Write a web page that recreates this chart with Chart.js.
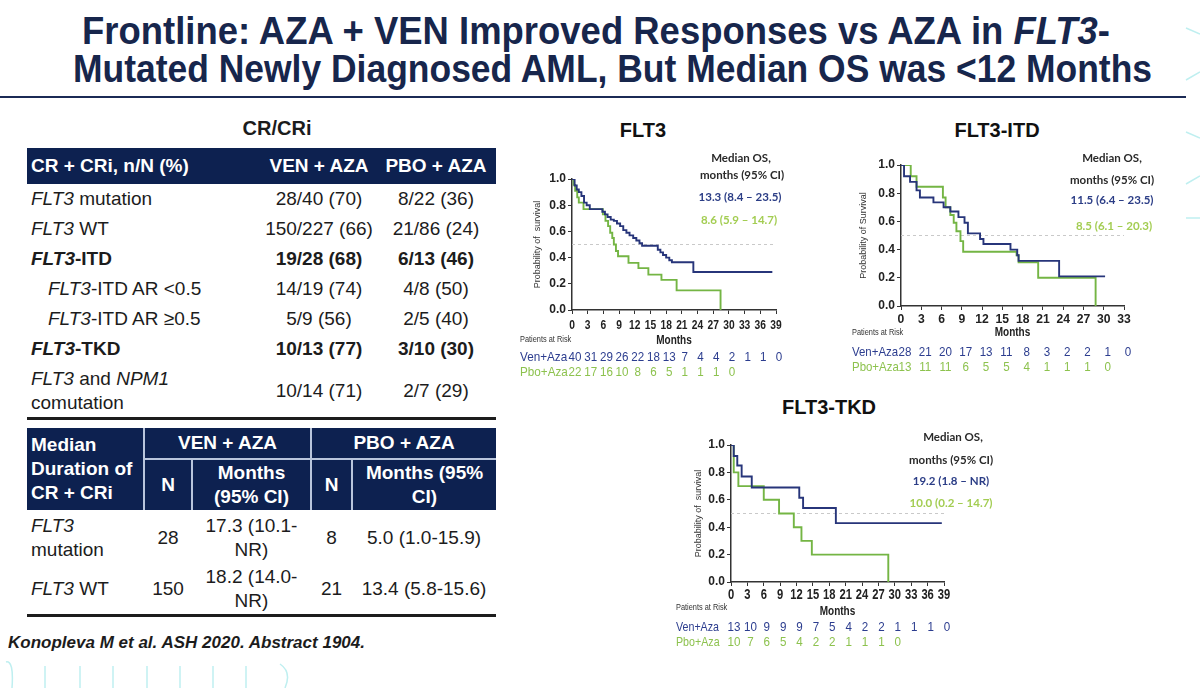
<!DOCTYPE html>
<html>
<head>
<meta charset="utf-8">
<script src="https://cdn.jsdelivr.net/npm/chart.js@4.4.1/dist/chart.umd.min.js"></script>
<style>
body { margin: 0; background: #fff; }
#slide { position: relative; width: 1200px; height: 688px; overflow: hidden; background: #fff;
  font-family: "Liberation Sans", Arial, sans-serif; color: #1c1c1c; }
.abs { position: absolute; white-space: nowrap; }
.ttl { font-family: "Liberation Sans", sans-serif; font-weight: bold;
  font-size: 38px; line-height: 38px; color: #17264c; transform-origin: 0 50%; }
.ctitle { font-weight: bold; font-size: 20px; line-height: 24px; color: #111; transform: translateX(-50%); }
.med { font-family: Lato, sans-serif; font-weight: bold; font-size: 11.5px; line-height: 16px; transform: translateX(-50%); color: #2a2a2a; }
canvas { position: absolute; }
table { position: absolute; border-collapse: collapse; table-layout: fixed; font-size: 19px; }
td, th { padding: 0; white-space: nowrap; }
#t1 th { background: #0d2150; color: #fff; height: 36px; font-weight: bold; }
#t1 td { height: 30px; line-height: 24px; text-align: center; }
#t1 td.l { text-align: left; padding-left: 4px; }
#t1 td.ind { padding-left: 21px; }
#t1 tr.last td { height: 53px; border-bottom: 3px solid #1d1d1d; }
#t2 th { background: #0d2150; color: #fff; font-weight: bold; line-height: 24px; }
#t2 td { text-align: center; line-height: 24px; }
#t2 td.l { text-align: left; padding-left: 4px; }
#t2 .vl { border-left: 2px solid #b9c5dc; }
#t2 .hl { border-bottom: 2px solid #b9c5dc; }
#t2 tr.last td { border-bottom: 3px solid #1d1d1d; }
</style>
</head>
<body>
<div id="slide">
  <div class="abs ttl" id="title1" style="left:82px;top:12px;">Frontline: AZA + VEN Improved Responses vs AZA in <i>FLT3</i>-</div>
  <div class="abs ttl" id="title2" style="left:73px;top:50px;">Mutated Newly Diagnosed AML, But Median OS was &lt;12 Months</div>
  <div class="abs" style="left:0;top:96px;width:1186px;height:2px;background:#1b2a55;"></div>

  <svg class="abs" style="left:0;top:0;" width="1200" height="688">
    <g stroke="#bfeff0" stroke-width="1.5" fill="none">
      <path d="M1186 28 L1200 34"/><path d="M1186 80 L1200 72"/><path d="M1186 132 L1200 138"/>
      <path d="M1186 184 L1200 176"/><path d="M1186 218 L1200 218"/>
      <path d="M6 662 Q14 660 12 688"/><path d="M45 666 L45 688"/><path d="M80 666 L80 688"/>
      <path d="M113 666 L113 688"/><path d="M147 666 L147 688"/><path d="M180 666 L180 688"/>
      <path d="M213 666 L213 688"/><path d="M246 666 L246 688"/><path d="M280 664 Q292 672 285 688"/>
    </g>
  </svg>

  <div class="abs" style="left:277px;top:116px;transform:translateX(-50%);font-weight:bold;font-size:20px;line-height:24px;">CR/CRi</div>

  <table id="t1" style="left:27px;top:148px;width:469px;">
    <colgroup><col style="width:235px"><col style="width:114px"><col style="width:120px"></colgroup>
    <tr><th style="text-align:left;padding-left:4px;">CR + CRi, n/N (%)</th><th>VEN + AZA</th><th>PBO + AZA</th></tr>
    <tr><td class="l"><i>FLT3</i> mutation</td><td>28/40 (70)</td><td>8/22 (36)</td></tr>
    <tr><td class="l"><i>FLT3</i> WT</td><td>150/227 (66)</td><td>21/86 (24)</td></tr>
    <tr style="font-weight:bold"><td class="l"><i>FLT3</i>-ITD</td><td>19/28 (68)</td><td>6/13 (46)</td></tr>
    <tr><td class="l ind"><i>FLT3</i>-ITD AR &lt;0.5</td><td>14/19 (74)</td><td>4/8 (50)</td></tr>
    <tr><td class="l ind"><i>FLT3</i>-ITD AR ≥0.5</td><td>5/9 (56)</td><td>2/5 (40)</td></tr>
    <tr style="font-weight:bold"><td class="l"><i>FLT3</i>-TKD</td><td>10/13 (77)</td><td>3/10 (30)</td></tr>
    <tr class="last"><td class="l"><i>FLT3</i> and <i>NPM1</i><br>comutation</td><td>10/14 (71)</td><td>2/7 (29)</td></tr>
  </table>

  <table id="t2" style="left:27px;top:428px;width:469px;">
    <colgroup><col style="width:117px"><col style="width:48px"><col style="width:119px"><col style="width:41px"><col style="width:144px"></colgroup>
    <tr style="height:31px"><th rowspan="2" style="text-align:left;padding-left:4px;">Median<br>Duration of<br>CR + CRi</th>
      <th colspan="2" class="vl hl">VEN + AZA</th><th colspan="2" class="vl hl">PBO + AZA</th></tr>
    <tr style="height:51px"><th class="vl">N</th><th class="vl">Months<br>(95% CI)</th><th class="vl">N</th><th class="vl">Months (95%<br>CI)</th></tr>
    <tr style="height:55px"><td class="l"><i>FLT3</i><br>mutation</td><td>28</td><td>17.3 (10.1-<br>NR)</td><td>8</td><td>5.0 (1.0-15.9)</td></tr>
    <tr class="last" style="height:50px"><td class="l"><i>FLT3</i> WT</td><td>150</td><td>18.2 (14.0-<br>NR)</td><td>21</td><td>13.4 (5.8-15.6)</td></tr>
  </table>

  <div class="abs" id="cite" style="left:8px;top:633px;font-weight:bold;font-style:italic;font-size:17px;line-height:20px;transform-origin:0 50%;">Konopleva M et al. ASH 2020. Abstract 1904.</div>

  <div class="abs ctitle" style="left:643px;top:118px;">FLT3</div>
  <div class="abs ctitle" style="left:997px;top:118px;">FLT3-ITD</div>
  <div class="abs ctitle" style="left:829px;top:395px;">FLT3-TKD</div>

  <canvas id="c1" width="290" height="215" style="left:512px;top:165px;"></canvas>
  <canvas id="c2" width="307" height="224" style="left:843px;top:151px;"></canvas>
  <canvas id="c3" width="304" height="224" style="left:668px;top:431px;"></canvas>

  <div class="abs med" style="left:741px;top:150px;">Median OS,</div>
  <div class="abs med" style="left:742px;top:167px;">months (95% CI)</div>
  <div class="abs med" style="left:740px;top:189px;color:#2b3d86;">13.3 (8.4 – 23.5)</div>
  <div class="abs med" style="left:739px;top:212px;color:#a3cd52;">8.6 (5.9 – 14.7)</div>

  <div class="abs med" style="left:1112px;top:150px;">Median OS,</div>
  <div class="abs med" style="left:1112px;top:172px;">months (95% CI)</div>
  <div class="abs med" style="left:1112px;top:192px;color:#2b3d86;">11.5 (6.4 – 23.5)</div>
  <div class="abs med" style="left:1114px;top:218px;color:#a3cd52;">8.5 (6.1 – 20.3)</div>

  <div class="abs med" style="left:953px;top:429px;">Median OS,</div>
  <div class="abs med" style="left:951px;top:452px;">months (95% CI)</div>
  <div class="abs med" style="left:951px;top:473px;color:#2b3d86;">19.2 (1.8 – NR)</div>
  <div class="abs med" style="left:951px;top:495px;color:#a3cd52;">10.0 (0.2 – 14.7)</div>
</div>

<script>
// x-axis ticks (months)
var ticks39 = [0, 3, 6, 9, 12, 15, 18, 21, 24, 27, 30, 33, 36, 39];
var ticks33 = [0, 3, 6, 9, 12, 15, 18, 21, 24, 27, 30, 33];

// FLT3 overall: KM steps
var flt3VenT = [0, 0.5, 0.9, 1.3, 1.8, 2.3, 2.8, 3.4, 5.8, 6.3, 6.8, 7.4, 8.0, 8.6, 9.2, 9.8, 10.4, 11.0, 11.7, 12.3, 12.9, 13.4, 16.4, 16.9, 17.4, 18.0, 18.6, 19.1, 23.2, 38.3];
var flt3VenS = [1.0, 0.95, 0.92, 0.90, 0.87, 0.82, 0.80, 0.77, 0.75, 0.73, 0.71, 0.69, 0.68, 0.66, 0.64, 0.61, 0.59, 0.57, 0.55, 0.53, 0.51, 0.49, 0.46, 0.44, 0.42, 0.40, 0.38, 0.365, 0.29, 0.29];
var flt3PboT = [0, 0.3, 0.6, 1.0, 1.3, 2.2, 5.9, 6.4, 6.9, 7.3, 7.7, 8.0, 8.4, 8.8, 10.8, 12.7, 14.6, 17.1, 20.0, 28.4];
var flt3PboS = [1.0, 0.955, 0.91, 0.86, 0.82, 0.77, 0.73, 0.68, 0.64, 0.59, 0.55, 0.50, 0.45, 0.41, 0.36, 0.32, 0.27, 0.23, 0.15, 0.0];
var flt3RiskVen = [40, 31, 29, 26, 22, 18, 13, 7, 4, 4, 2, 1, 1, 0];
var flt3RiskPbo = [22, 17, 16, 10, 8, 6, 5, 1, 1, 1, 0];

// FLT3-ITD
var itdVenT = [0, 0.45, 1.34, 2.3, 2.8, 4.8, 6.3, 7.3, 8.5, 9.4, 9.9, 11.7, 12.2, 16.2, 17.2, 17.4, 23.4, 30.2];
var itdVenS = [1.0, 0.92, 0.88, 0.82, 0.77, 0.735, 0.70, 0.67, 0.63, 0.59, 0.515, 0.475, 0.44, 0.40, 0.36, 0.32, 0.21, 0.21];
var itdPboT = [0, 1.44, 2.3, 6.2, 6.6, 7.3, 7.8, 8.2, 8.8, 9.2, 17.1, 17.4, 20.3, 28.8];
var itdPboS = [1.0, 0.92, 0.846, 0.77, 0.70, 0.645, 0.59, 0.53, 0.46, 0.385, 0.36, 0.31, 0.20, 0.0];
var itdRiskVen = [28, 21, 20, 17, 13, 11, 8, 3, 2, 2, 1, 0];
var itdRiskPbo = [13, 11, 11, 6, 5, 5, 4, 1, 1, 1, 0];

// FLT3-TKD
var tkdVenT = [0, 0.5, 1.15, 1.95, 3.8, 12.5, 13.2, 19.2, 38.6];
var tkdVenS = [1.0, 0.92, 0.85, 0.77, 0.69, 0.615, 0.54, 0.43, 0.43];
var tkdPboT = [0, 0.5, 1.35, 6.0, 8.8, 11.5, 12.9, 14.8, 28.8];
var tkdPboS = [1.0, 0.80, 0.70, 0.60, 0.50, 0.40, 0.30, 0.20, 0.0];
var tkdRiskVen = [13, 10, 9, 9, 9, 7, 5, 4, 2, 2, 1, 1, 1, 0];
var tkdRiskPbo = [10, 7, 6, 5, 4, 2, 2, 1, 1, 1, 0];

var medianLine = 0.5;

var NAVY = "#27357a";
var GREEN = "#74b544";
var NAVY_TXT = "#2c3d8f";
var GREEN_TXT = "#8dc24e";
var SANS = '"Liberation Sans", Arial, sans-serif';

function pts(t, s) {
  return t.map(function (v, i) { return { x: v, y: s[i] }; });
}

// slide text is condensed, no narrow font here, so squeeze it horizontally
function narrow(ctx, text, x, y, sx, align) {
  ctx.save();
  ctx.translate(x, y);
  ctx.scale(sx, 1);
  ctx.textAlign = align;
  ctx.fillText(text, 0, 0);
  ctx.restore();
}

var axisText = {
  id: "axisText",
  afterDraw: function (chart, args, o) {
    var ctx = chart.ctx, xs = chart.scales.x, a = chart.chartArea;
    var mid = (a.left + a.right) / 2;
    ctx.save();
    ctx.textBaseline = "middle";
    ctx.fillStyle = "#222";
    ctx.font = "bold " + o.tickSize + "px " + SANS;
    o.times.forEach(function (t) {
      narrow(ctx, String(t), xs.getPixelForValue(t), a.bottom + o.tickY, o.tickSX, "center");
    });
    ctx.font = "bold 12.5px " + SANS;
    narrow(ctx, "Months", mid, a.bottom + o.monthsY, 0.8, "center");
    ctx.fillStyle = "#333";
    ctx.font = "9px " + SANS;
    narrow(ctx, "Patients at Risk", o.labelX, a.bottom + o.headY, 0.82, "left");
    o.rows.forEach(function (row, r) {
      var y = a.bottom + o.rowY[r];
      ctx.fillStyle = row.color;
      ctx.font = "13px " + SANS;
      narrow(ctx, row.label, o.labelX, y, o.labelSX, "left");
      ctx.font = "13.5px " + SANS;
      row.values.forEach(function (v, i) {
        narrow(ctx, String(v), xs.getPixelForValue(o.times[i]) + o.shift, y, 0.86, "center");
      });
    });
    ctx.restore();
  }
};

function makeKm(id, c) {
  new Chart(document.getElementById(id), {
    type: "line",
    data: {
      datasets: [
        { data: pts(c.venT, c.venS), borderColor: NAVY, borderWidth: 1.9, stepped: true, pointRadius: 0 },
        { data: pts(c.pboT, c.pboS), borderColor: GREEN, borderWidth: 1.9, stepped: true, pointRadius: 0 },
        { data: [{ x: 0, y: medianLine }, { x: c.max, y: medianLine }], borderColor: "#c9c9c9", borderWidth: 1, borderDash: [3, 3], pointRadius: 0 }
      ]
    },
    options: {
      responsive: false,
      animation: false,
      layout: { padding: c.pad },
      plugins: {
        legend: { display: false },
        tooltip: { enabled: false },
        axisText: {
          times: c.ticks, tickSize: c.tickSize, tickSX: c.tickSX, tickY: c.tickY, monthsY: c.monthsY,
          labelX: c.labelX, labelSX: c.labelSX, headY: c.headY, rowY: c.rowY, shift: c.shift,
          rows: [
            { label: "Ven+Aza", values: c.riskVen, color: NAVY_TXT },
            { label: "Pbo+Aza", values: c.riskPbo, color: GREEN_TXT }
          ]
        }
      },
      scales: {
        x: {
          type: "linear", min: 0, max: c.max,
          afterFit: function (s) { s.height = c.xH; },
          afterBuildTicks: function (s) { s.ticks = c.ticks.map(function (v) { return { value: v }; }); },
          ticks: { display: false },
          grid: { drawOnChartArea: false, drawTicks: true, tickLength: 4, color: "#333" },
          border: { display: true, color: "#333", width: 1.5 }
        },
        y: {
          min: 0, max: 1,
          afterFit: function (s) { s.width = c.yW; },
          ticks: { stepSize: 0.2, padding: 2, color: "#222", font: { family: SANS, size: 12, weight: "bold" },
            callback: function (v) { return v.toFixed(1); } },
          grid: { drawOnChartArea: false, drawTicks: true, tickLength: 4, color: "#333" },
          border: { display: true, color: "#333", width: 1.5 },
          title: { display: true, text: c.yTitle, color: "#333", font: { family: SANS, size: 9 }, padding: { top: 4, bottom: 0 } }
        }
      }
    },
    plugins: [axisText]
  });
}

makeKm("c1", {
  venT: flt3VenT, venS: flt3VenS, pboT: flt3PboT, pboS: flt3PboS,
  riskVen: flt3RiskVen, riskPbo: flt3RiskPbo, ticks: ticks39, max: 39,
  pad: { left: 16, top: 14, right: 26, bottom: 28 }, yW: 44, xH: 42,
  tickSize: 13.5, tickSX: 0.76, tickY: 15, monthsY: 31,
  labelX: 8, labelSX: 0.9, headY: 30, rowY: [47, 62], shift: 3, yTitle: "Probability of  survival"
});
makeKm("c2", {
  venT: itdVenT, venS: itdVenS, pboT: itdPboT, pboS: itdPboS,
  riskVen: itdRiskVen, riskPbo: itdRiskPbo, ticks: ticks33, max: 33,
  pad: { left: 11, top: 14, right: 26, bottom: 31 }, yW: 47, xH: 38,
  tickSize: 13.5, tickSX: 0.9, tickY: 13, monthsY: 27,
  labelX: 9, labelSX: 0.88, headY: 27, rowY: [46, 61], shift: 4, yTitle: "Probability of Survival"
});
makeKm("c3", {
  venT: tkdVenT, venS: tkdVenS, pboT: tkdPboT, pboS: tkdPboS,
  riskVen: tkdRiskVen, riskPbo: tkdRiskPbo, ticks: ticks39, max: 39,
  pad: { left: 21, top: 14, right: 28, bottom: 32 }, yW: 42, xH: 41,
  tickSize: 14, tickSX: 0.8, tickY: 13, monthsY: 30,
  labelX: 8, labelSX: 0.82, headY: 26, rowY: [45, 60], shift: 3, yTitle: "Probability of  survival"
});

// stretch text lines to the widths they take on the slide
function fitWidth(id, w) {
  var el = document.getElementById(id);
  var r = el.getBoundingClientRect().width;
  el.style.transform = "scaleX(" + (w / r) + ")";
}
fitWidth("title1", 1028);
fitWidth("title2", 1079);
fitWidth("cite", 357);
</script>
</body>
</html>
